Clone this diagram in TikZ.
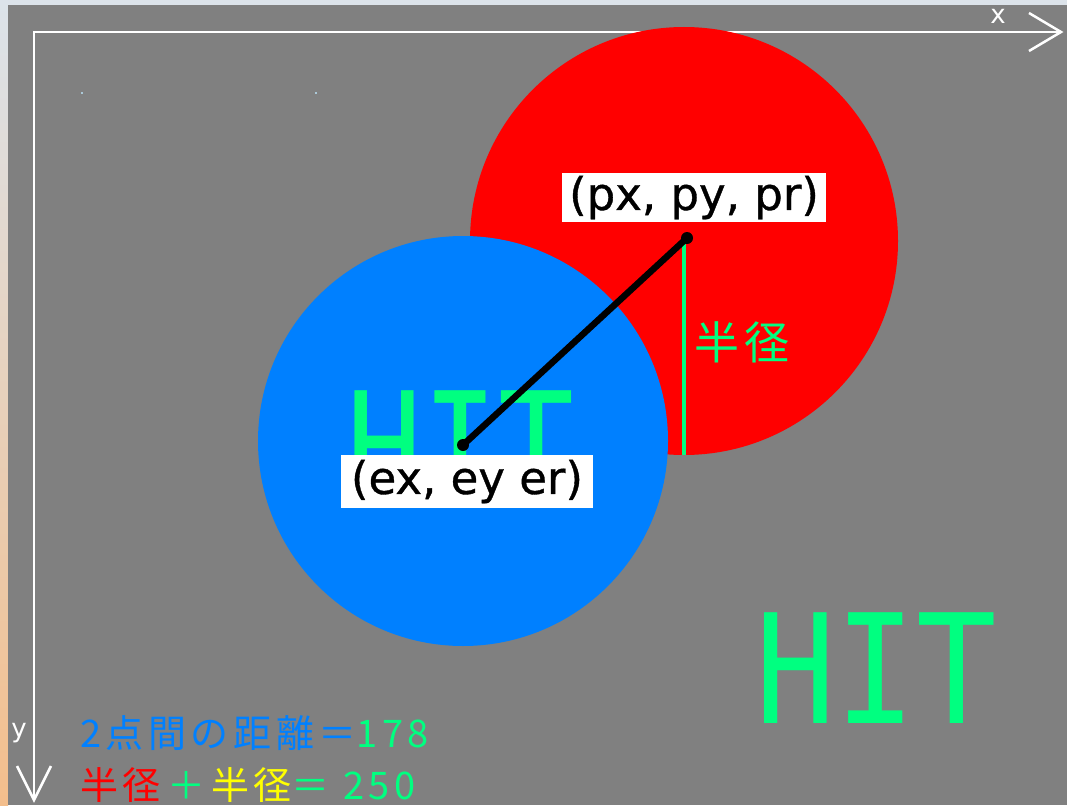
\documentclass[tikz,border=0pt]{standalone}
\usepackage{fontspec}
\setmainfont{DejaVu Sans}
\newfontfamily\jpfont[LetterSpace=12]{Noto Sans CJK JP}
\newfontfamily\lblfont[FakeBold=0.8]{DejaVu Sans}
\newfontfamily\hitfont{DejaVu Sans Mono}
\definecolor{winbg}{RGB}{128,128,128}
\definecolor{pred}{RGB}{255,0,0}
\definecolor{eblue}{RGB}{0,128,255}
\definecolor{hgreen}{RGB}{0,255,128}
\definecolor{hyellow}{RGB}{255,255,0}
\definecolor{deskA}{RGB}{220,227,234}
\definecolor{deskB}{RGB}{243,190,140}
\definecolor{dotc}{RGB}{170,200,215}
\tikzset{
  axis/.style={draw=white, line width=2.5pt},
  axlbl/.style={text=white, font=\fontsize{26}{26}\selectfont, inner sep=0pt},
  disc/.style={circle, inner sep=0pt, minimum size=#1},
  coordlbl/.style={fill=white, text=black, inner sep=0pt, font=\lblfont\fontsize{45}{45}\selectfont},
  hittext/.style={text=hgreen, inner sep=0pt, font=\hitfont\fontsize{152}{152}\selectfont},
  jp/.style={inner sep=0pt, font=\jpfont\fontsize{38}{38}\selectfont, anchor=west},
}
\begin{document}
\begin{tikzpicture}[x=1pt,y=-1pt]
\useasboundingbox (0,0) rectangle (1067,805);
% desktop edges and window background
\shade[top color=deskA, bottom color=deskB] (0,0) rectangle (8,805);
\fill[deskA] (0,0) rectangle (1067,5);
\fill[winbg] (8,5) rectangle (1067,805);
\fill[dotc] (81,92) rectangle (83,94);
\fill[dotc] (315,92) rectangle (317,94);
% axes
\coordinate (O) at (34,32);
\coordinate (XE) at (1061,32);
\coordinate (YE) at (34,800);
\coordinate (XA1) at (1029,13);
\coordinate (XA2) at (1029,51);
\coordinate (YA1) at (17,766);
\coordinate (YA2) at (51,766);
\draw[axis] (XE) -- (O) -- (YE);
\draw[axis, line join=miter] (XA1) -- (XE) -- (XA2);
\draw[axis, line join=miter] (YA1) -- (YE) -- (YA2);
\node[axlbl] (xl) at (998,16) {x};
\node[axlbl] (yl) at (19,733) {y};
% circles
\node[disc=428pt, fill=pred] (P) at (684,241) {};
\node[disc=410pt, fill=eblue] (E) at (463,441) {};
% radius line
\coordinate (R0) at (684,238);
\coordinate (R1) at (684,455);
\draw[hgreen, line width=4pt] (R0) -- (R1);
\node[text=hgreen, inner sep=0pt, anchor=west, font=\jpfont\fontsize{45}{45}\selectfont] (rl) at (694,342) {半径};
% HIT inside blue circle
\node[hittext, anchor=north west, xscale=0.83] (hit1) at (346,390) {HIT};
% distance line
\coordinate (EC) at (463,445);
\coordinate (PC) at (687,238);
\draw[black, line width=6.5pt, line cap=round] (EC) -- (PC);
\fill[black] (EC) circle (6pt);
\fill[black] (PC) circle (6pt);
% coordinate labels
\node[coordlbl, minimum width=264pt, minimum height=49pt] (plbl) at (694,197.5) {(px, py, pr)};
\node[coordlbl, minimum width=252pt, minimum height=53pt] (elbl) at (467,481.5) {(ex, ey er)};
% big HIT
\node[hittext, anchor=north west, xscale=0.88] (hit2) at (755,612) {HIT};
% bottom text
\node[jp] (l1) at (80,733) {\textcolor{eblue}{2点間の距離＝}\textcolor{hgreen}{178}};
\node[jp] (l2) at (80,785) {\textcolor{pred}{半径}\textcolor{hgreen}{\,＋\,}\textcolor{hyellow}{半径}\textcolor{hgreen}{＝ 250}};
\end{tikzpicture}
\end{document}
